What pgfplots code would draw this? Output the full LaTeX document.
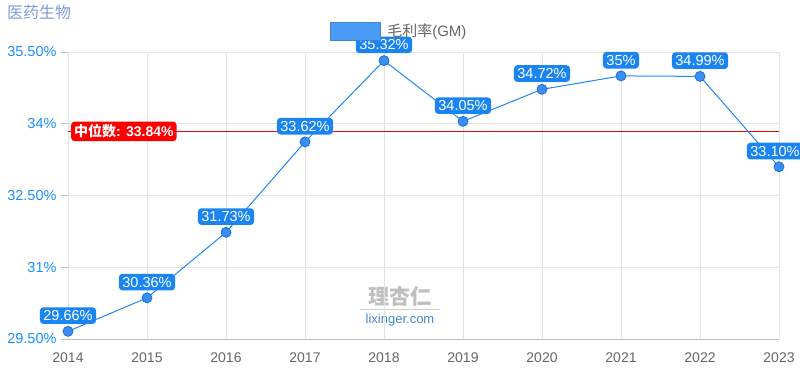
\documentclass[border=0pt]{standalone}
\usepackage{fontspec}
\setmainfont{Liberation Sans}
\newfontfamily\cjk{Noto Sans CJK SC}
\usepackage{pgfplots}
\pgfplotsset{compat=1.18}
\definecolor{ser}{HTML}{1E88F5}
\definecolor{lab}{HTML}{1A85F0}
\definecolor{mk}{HTML}{3A8EF2}
\definecolor{mkd}{HTML}{1870D8}
\definecolor{ytk}{HTML}{1890FF}
\definecolor{xtk}{HTML}{666666}
\definecolor{gridc}{HTML}{E3E3E3}
\definecolor{legb}{HTML}{4A9CF6}
\definecolor{ttl}{HTML}{7E9CD8}
\definecolor{medred}{HTML}{FF0000}
\begin{document}
\begin{tikzpicture}[x=1bp,y=1bp]
\useasboundingbox (0,0) rectangle (800,375);
\node[anchor=west,text=ttl,inner sep=0pt] at (7,363) {\fontsize{16bp}{18bp}\selectfont\cjk 医药生物};
\node[text=black!25,inner sep=0pt] at (400,78) {\fontsize{21bp}{23bp}\selectfont\cjk\bfseries 理杏仁};
\draw[black!20] (360,66) -- (440,66);
\node[text=ytk!60!gray,inner sep=0pt] at (400,55) {\fontsize{13bp}{15bp}\selectfont lixinger.com};
\begin{axis}[
  at={(68bp,36bp)}, anchor=south west,
  scale only axis, width=711bp, height=287bp,
  xmin=2014, xmax=2023, ymin=29.5, ymax=35.5,
  xtick={2014,2015,2016,2017,2018,2019,2020,2021,2022,2023},
  xticklabels={2014,2015,2016,2017,2018,2019,2020,2021,2022,2023},
  ytick={29.5,31,32.5,34,35.5},
  yticklabels={29.50\%,31\%,32.50\%,34\%,35.50\%},
  extra y ticks={33.84},
  extra y tick labels={},
  extra y tick style={grid=major, major grid style={draw=medred, line width=1.1bp}, major tick length=0pt, tick style={draw=none}},
  /pgf/number format/assume math mode=true,
  grid=major, major grid style={draw=gridc, line width=0.8bp},
  axis x line*=bottom, axis y line*=left,
  x axis line style={draw=black!25, line width=0.8bp},
  y axis line style={draw=gridc, line width=0.8bp},
  xtick style={draw=none},
  ytick style={draw=black!25, line width=0.8bp},
  tick align=outside, major tick length=7bp,
  yticklabel style={text=ytk, font=\fontsize{14.5bp}{16bp}\selectfont, xshift=-1bp},
  xticklabel style={text=xtk, font=\fontsize{14bp}{16bp}\selectfont, yshift=-3bp},
  clip=false,
  legend style={at={(0.466,1.073)}, anchor=center, draw=none, fill=none, column sep=4bp,
    font=\fontsize{15bp}{17bp}\selectfont, text=xtk, inner sep=0pt},
]
\addplot[color=ser, line width=1bp, mark=*, mark size=5bp,
  mark options={fill=mk, draw=mkd, line width=0.8bp},
  point meta=explicit symbolic,
  nodes near coords={\pgfplotspointmeta\%},
  every node near coord/.append style={anchor=south, yshift=7bp, fill=lab, text=white,
    rounded corners=3.5bp, inner xsep=3.5bp, inner ysep=3.2bp,
    font=\fontsize{14.5bp}{16bp}\selectfont},
  coordinate style/.condition={x>2022.5}{xshift=-4bp},
  legend image code/.code={\draw[fill=legb, draw=legb!85!black] (0bp,-9bp) rectangle (50bp,9bp);}
] table[meta=lab] {
x y lab
2014 29.66 29.66
2015 30.36 30.36
2016 31.73 31.73
2017 33.62 33.62
2018 35.32 35.32
2019 34.05 34.05
2020 34.72 34.72
2021 35.00 35
2022 34.99 34.99
2023 33.10 33.10
};
\addlegendentry{{\cjk 毛利率}(GM)}
\node[anchor=west, fill=medred, text=white, rounded corners=3.5bp, inner xsep=3bp, inner ysep=3bp,
  font=\fontsize{14bp}{16bp}\selectfont\bfseries] at (axis cs:2014,33.84) [xshift=3bp] {{\cjk 中位数}: 33.84\%};
\end{axis}
\end{tikzpicture}
\end{document}
